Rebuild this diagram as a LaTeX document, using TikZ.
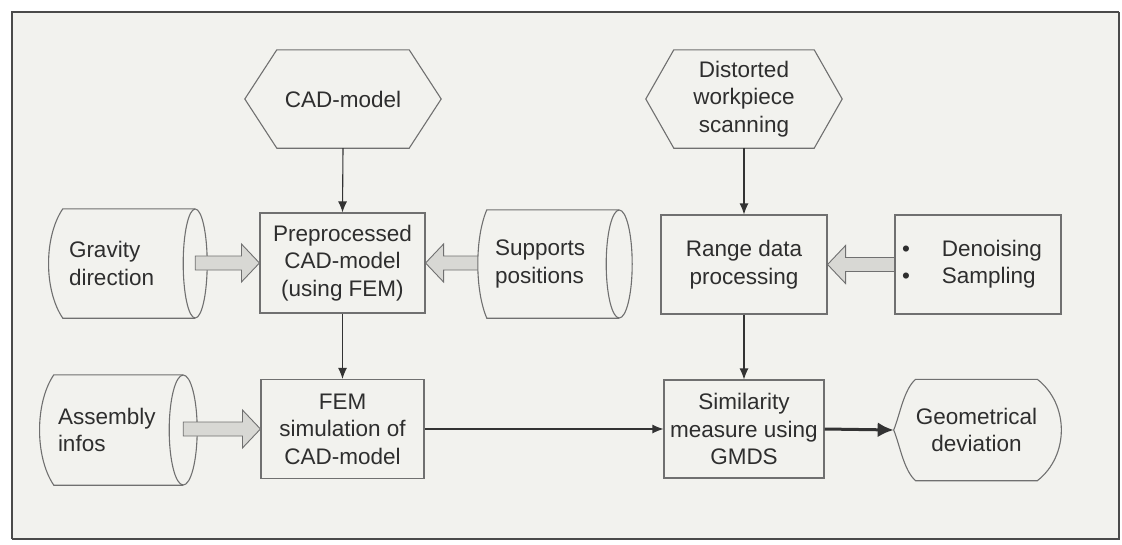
\documentclass[tikz,border=0pt]{standalone}
\usepackage{fontspec}
\setmainfont{Liberation Sans}
\usetikzlibrary{calc,arrows.meta}
\definecolor{bg}{HTML}{F2F2EE}
\definecolor{txt}{HTML}{2E2E2E}
\definecolor{edge}{HTML}{707070}
\definecolor{lineclr}{HTML}{333333}
\definecolor{framec}{HTML}{4A4A4A}
\definecolor{arrowfill}{HTML}{D8D8D4}
\pgfdeclarelayer{bottom}
\pgfdeclarelayer{background}
\pgfsetlayers{bottom,background,main}

\newcommand\fatarr[2]{%
  \draw[fatarrow] let \p1=(#1), \p2=(#2), \p3=($(#2)!18pt!(#1)$) in
    (\x1,\y2+7pt) -- (\x3,\y2+7pt) -- (\x3,\y2+19pt) -- (\x2,\y2) --
    (\x3,\y2-19pt) -- (\x3,\y2-7pt) -- (\x1,\y2-7pt) -- cycle;}

% cylinder: node name, bulge control, ellipse x radius, ellipse y radius
\newcommand\cylshape[4]{%
  \fill[bg] (#1.north west) .. controls ($(#1.north west)+(-#2,28)$) and ($(#1.south west)+(-#2,-28)$) .. (#1.south west) -- (#1.south east) -- (#1.north east) -- cycle;
  \draw[shapeline] (#1.north east) -- (#1.north west) .. controls ($(#1.north west)+(-#2,28)$) and ($(#1.south west)+(-#2,-28)$) .. (#1.south west) -- (#1.south east);
  \draw[shapeline] (#1.east) ellipse [x radius=#3, y radius=#4];}

% hexagon around a node: node name, indent
\newcommand\hexshape[2]{%
  \draw[shapeline, fill=bg] (#1.west) -- ($(#1.north west)+(#2,0)$) -- ($(#1.north east)+(-#2,0)$) -- (#1.east) -- ($(#1.south east)+(-#2,0)$) -- ($(#1.south west)+(#2,0)$) -- cycle;}

\tikzset{
  every node/.style={font=\fontsize{22.5}{27.5}\selectfont, text=txt},
  shapeline/.style={draw=edge, line width=1.1pt},
  procbox/.style={shapeline, fill=bg, align=center, inner sep=0pt},
  plainshape/.style={align=center, inner sep=0pt},
  cylnode/.style={align=left, inner ysep=0pt},
  fatarrow/.style={fill=arrowfill, draw=edge, line width=0.9pt},
  conn/.style={draw=lineclr, line width=1.1pt, -{Latex[length=11pt,width=9pt]}},
  thickconn/.style={draw=lineclr, line width=3pt, -{Latex[length=16pt,width=15pt]}}
}

\begin{document}
\begin{tikzpicture}[x=1pt,y=-1pt]
\useasboundingbox (0,0) rectangle (1122,544);
\begin{pgfonlayer}{bottom}
\fill[white] (0,0) rectangle (1122,544);
\fill[bg] (12,12) rectangle (1119,539);
\draw[framec, line width=1.5pt] (12,539) -- (1119,539) -- (1119,12);
\draw[framec, line width=2.5pt] (12,539) -- (12,12) -- (1119,12);
\end{pgfonlayer}

% hexagons
\node[plainshape, minimum width=196, minimum height=98] (cad) at (343,99) {CAD-model};
\node[plainshape, minimum width=196, minimum height=98] (dist) at (744,99) {Distorted\\workpiece\\scanning};

% process boxes
\node[procbox, minimum width=165, minimum height=100] (pre) at (342.5,263) {Preprocessed\\CAD-model\\(using FEM)};
\node[procbox, minimum width=163, minimum height=99] (fem) at (342.5,429) {FEM\\simulation of\\CAD-model};
\node[procbox, minimum width=166, minimum height=99] (range) at (744,264.5) {Range data\\processing};
\node[procbox, minimum width=160, minimum height=98] (sim) at (744,429) {Similarity\\measure using\\GMDS};
\node[procbox, minimum width=166, minimum height=99] (den) at (978,264.5)
  {\begin{tabular}{@{}l@{\hspace{32pt}}l@{}}\textbullet & Denoising\\ \textbullet & Sampling\end{tabular}\hspace*{12pt}};

% cylinders (stored data)
\node[cylnode, text width=120, inner xsep=6, minimum height=109] (grav) at (129,263.5) {Gravity\\direction};
\node[cylnode, text width=116, inner xsep=8, minimum height=108] (sup) at (553,264) {Supports\\positions};
\node[cylnode, text width=121, inner xsep=4, minimum height=110] (asm) at (118.5,430) {Assembly\\infos};

% display shape
\node[plainshape, minimum width=113, minimum height=101] (geo) at (976.5,430) {Geometrical\\deviation};
\coordinate (geotip) at ($(geo.west)+(-22,0)$);

\begin{pgfonlayer}{bottom}
\fatarr{sup.west}{pre.east}
\end{pgfonlayer}

\begin{pgfonlayer}{background}
\hexshape{cad}{32}
\hexshape{dist}{28}
\cylshape{grav}{19}{12}{54.5}
\cylshape{sup}{12}{13}{54}
\cylshape{asm}{19}{14}{55}
\draw[shapeline, fill=bg] (geo.north west) .. controls ($(geo.north west)+(-12,10)$) and ($(geotip)+(6,-14)$) .. (geotip)
  .. controls ($(geotip)+(6,14)$) and ($(geo.south west)+(-12,-10)$) .. (geo.south west)
  -- (geo.south east) .. controls ($(geo.south east)+(32,-25)$) and ($(geo.north east)+(32,25)$) .. (geo.north east) -- cycle;
\end{pgfonlayer}

% fat arrows
\fatarr{grav.east}{pre.west}
\fatarr{asm.east}{fem.west}
\fatarr{den.west}{range.east}

% connectors
\draw[conn] (cad.south) -- (pre.north);
\draw[conn] (pre.south) -- (fem.north);
\draw[conn] (dist.south) -- (range.north);
\draw[conn] (range.south) -- (sim.north);
\draw[conn] (fem.east) -- (sim.west);
\draw[thickconn] (sim.east) -- (geotip);
\end{tikzpicture}
\end{document}
